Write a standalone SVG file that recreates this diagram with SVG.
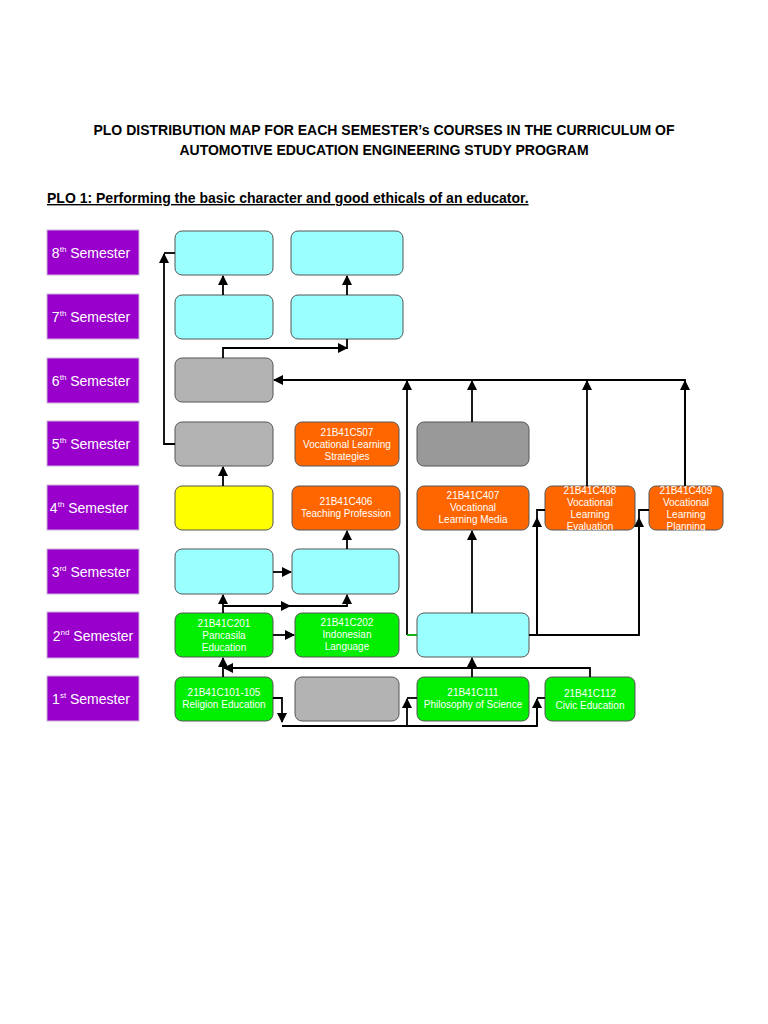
<svg xmlns="http://www.w3.org/2000/svg" width="768" height="1024" viewBox="0 0 768 1024">
<defs>
<marker id="ah" markerWidth="10" markerHeight="10" refX="9" refY="5" orient="auto" markerUnits="userSpaceOnUse"><path d="M0,0 L10,5 L0,10 z" fill="#000"/></marker>
<style>
.t{font-family:"Liberation Sans",Arial,sans-serif;font-weight:bold;font-size:14px;fill:#000;text-anchor:middle}
.sem rect{fill:#9900cc;stroke:#c8b4d8;stroke-width:1}
.sem text{font-family:"Liberation Sans",Arial,sans-serif;font-size:14px;fill:#fff;text-anchor:middle}
.n rect{stroke:#555;stroke-width:1}
.n text{font-family:"Liberation Sans",Arial,sans-serif;font-size:10px;fill:#fff;text-anchor:middle}
.c{fill:#99ffff}.g{fill:#b3b3b3}.dg{fill:#999}.o{fill:#ff6600}.gr{fill:#00ee00}.y{fill:#ffff00}
#conn path{fill:none;stroke:#000;stroke-width:1.8}
</style>
</defs>
<rect width="768" height="1024" fill="#fff"/>
<text class="t" x="384" y="135">PLO DISTRIBUTION MAP FOR EACH SEMESTER’s COURSES IN THE CURRICULUM OF</text>
<text class="t" x="384" y="155">AUTOMOTIVE EDUCATION ENGINEERING STUDY PROGRAM</text>
<text class="t" x="47" y="203" text-anchor="start" style="text-anchor:start" text-decoration="underline">PLO 1: Performing the basic character and good ethicals of an educator.</text>
<g class="sem">
<g id="s8"><rect x="47" y="230" width="92" height="45"/><text x="91" y="258">8<tspan font-size="8" dy="-6">th</tspan><tspan dy="6"> Semester</tspan></text></g>
<g id="s7"><rect x="47" y="294" width="92" height="45"/><text x="91" y="322">7<tspan font-size="8" dy="-6">th</tspan><tspan dy="6"> Semester</tspan></text></g>
<g id="s6"><rect x="47" y="358" width="92" height="45"/><text x="91" y="386">6<tspan font-size="8" dy="-6">th</tspan><tspan dy="6"> Semester</tspan></text></g>
<g id="s5"><rect x="47" y="421" width="92" height="45"/><text x="91" y="449">5<tspan font-size="8" dy="-6">th</tspan><tspan dy="6"> Semester</tspan></text></g>
<g id="s4"><rect x="47" y="485" width="92" height="45"/><text x="89" y="513">4<tspan font-size="8" dy="-6">th</tspan><tspan dy="6"> Semester</tspan></text></g>
<g id="s3"><rect x="47" y="549" width="92" height="45"/><text x="91" y="577">3<tspan font-size="8" dy="-6">rd</tspan><tspan dy="6"> Semester</tspan></text></g>
<g id="s2"><rect x="47" y="612" width="92" height="46"/><text x="93" y="641">2<tspan font-size="8" dy="-6">nd</tspan><tspan dy="6"> Semester</tspan></text></g>
<g id="s1"><rect x="47" y="676" width="92" height="45"/><text x="91" y="704">1<tspan font-size="8" dy="-6">st</tspan><tspan dy="6"> Semester</tspan></text></g>
</g>
<g class="n">
<g id="n8a"><rect class="c" x="175" y="231" width="98" height="44" rx="7"/></g>
<g id="n8b"><rect class="c" x="291" y="231" width="112" height="44" rx="7"/></g>
<g id="n7a"><rect class="c" x="175" y="295" width="98" height="44" rx="7"/></g>
<g id="n7b"><rect class="c" x="291" y="295" width="112" height="44" rx="7"/></g>
<g id="n6a"><rect class="g" x="175" y="358" width="98" height="44" rx="7"/></g>
<g id="n5a"><rect class="g" x="175" y="422" width="98" height="44" rx="7"/></g>
<g id="n5b"><rect class="o" x="295" y="422" width="104" height="44" rx="7"/><text x="347" y="436">21B41C507</text><text x="347" y="448">Vocational Learning</text><text x="347" y="460">Strategies</text></g>
<g id="n5c"><rect class="dg" x="417" y="422" width="112" height="44" rx="7"/></g>
<g id="n4a"><rect class="y" x="175" y="486" width="98" height="44" rx="7"/></g>
<g id="n4b"><rect class="o" x="292" y="486" width="108" height="44" rx="7"/><text x="346" y="505">21B41C406</text><text x="346" y="517">Teaching Profession</text></g>
<g id="n4c"><rect class="o" x="417" y="486" width="112" height="44" rx="7"/><text x="473" y="499">21B41C407</text><text x="473" y="511">Vocational</text><text x="473" y="523">Learning Media</text></g>
<g id="n4d"><rect class="o" x="545" y="486" width="90" height="44" rx="7"/><text x="590" y="494">21B41C408</text><text x="590" y="506">Vocational</text><text x="590" y="518">Learning</text><text x="590" y="530">Evaluation</text></g>
<g id="n4e"><rect class="o" x="649" y="486" width="74" height="44" rx="7"/><text x="686" y="494">21B41C409</text><text x="686" y="506">Vocational</text><text x="686" y="518">Learning</text><text x="686" y="530">Planning</text></g>
<g id="n3a"><rect class="c" x="175" y="549" width="98" height="45" rx="7"/></g>
<g id="n3b"><rect class="c" x="292" y="549" width="107" height="45" rx="7"/></g>
<g id="n2a"><rect class="gr" x="175" y="613" width="98" height="44" rx="7"/><text x="224" y="627">21B41C201</text><text x="224" y="639">Pancasila</text><text x="224" y="651">Education</text></g>
<g id="n2b"><rect class="gr" x="295" y="613" width="104" height="44" rx="7"/><text x="347" y="626">21B41C202</text><text x="347" y="638">Indonesian</text><text x="347" y="650">Language</text></g>
<g id="n2c"><rect class="c" x="417" y="613" width="112" height="44" rx="7"/></g>
<g id="n1a"><rect class="gr" x="175" y="677" width="98" height="44" rx="7"/><text x="224" y="696">21B41C101-105</text><text x="224" y="708">Religion Education</text></g>
<g id="n1b"><rect class="g" x="295" y="677" width="104" height="44" rx="7"/></g>
<g id="n1c"><rect class="gr" x="417" y="677" width="112" height="44" rx="7"/><text x="473" y="696">21B41C111</text><text x="473" y="708">Philosophy of Science</text></g>
<g id="n1d"><rect class="gr" x="545" y="677" width="90" height="44" rx="7"/><text x="590" y="697">21B41C112</text><text x="590" y="709">Civic Education</text></g>
</g>
<g id="conn">
<path d="M175,444 H164 V254" marker-end="url(#ah)"/>
<path d="M164,253 H175"/>
<path d="M223,295 V276" marker-end="url(#ah)"/>
<path d="M347,295 V276" marker-end="url(#ah)"/>
<path d="M223,358 V348 H347" marker-end="url(#ah)"/>
<path d="M347,349 V339"/>
<path d="M685,486 V380 H274" marker-end="url(#ah)"/>
<path d="M407,635 V381" marker-end="url(#ah)"/>
<path d="M407,635 H417" style="stroke:#0a0"/>
<path d="M472,422 V381" marker-end="url(#ah)"/>
<path d="M587,486 V381" marker-end="url(#ah)"/>
<path d="M685,486 V381" marker-end="url(#ah)"/>
<path d="M223,486 V467" marker-end="url(#ah)"/>
<path d="M347,549 V531" marker-end="url(#ah)"/>
<path d="M273,572 H291" marker-end="url(#ah)"/>
<path d="M223,613 V595" marker-end="url(#ah)"/>
<path d="M223,606 H290" marker-end="url(#ah)"/>
<path d="M285,606 H347 V595" marker-end="url(#ah)"/>
<path d="M273,635 H294" marker-end="url(#ah)"/>
<path d="M472,613 V531" marker-end="url(#ah)"/>
<path d="M529,635 H639 V510 H649"/>
<path d="M639,635 V518" marker-end="url(#ah)"/>
<path d="M537,635 V510 H545"/>
<path d="M537,635 V518" marker-end="url(#ah)"/>
<path d="M223,677 V658" marker-end="url(#ah)"/>
<path d="M590,677 V668 H224" marker-end="url(#ah)"/>
<path d="M472,677 V658" marker-end="url(#ah)"/>
<path d="M273,698 H282 V722" marker-end="url(#ah)"/>
<path d="M282,726 H537 V699"/>
<path d="M537,698 H545"/>
<path d="M537,726 V699" marker-end="url(#ah)"/>
<path d="M407,726 V699" marker-end="url(#ah)"/>
<path d="M407,698 H417"/>
</g>
</svg>
